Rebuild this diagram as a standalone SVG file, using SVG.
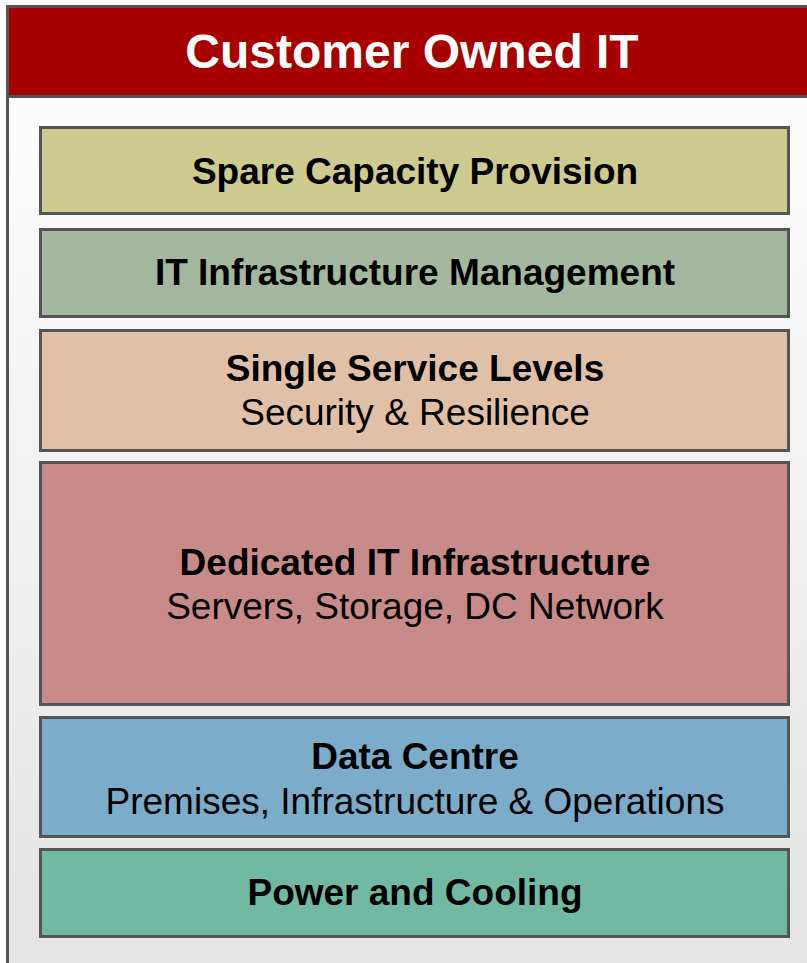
<svg xmlns="http://www.w3.org/2000/svg" width="807" height="963" viewBox="0 0 807 963">
<defs>
<linearGradient id="bg" x1="0" y1="0" x2="0" y2="1">
<stop offset="0" stop-color="#ffffff"/>
<stop offset="1" stop-color="#e4e4e4"/>
</linearGradient>
<style>
.box{stroke:#555555;stroke-width:3}
.t{font-family:"Liberation Sans",Arial,sans-serif;text-anchor:middle;fill:#000}
.b{font-weight:bold;font-size:37px}
.n{font-size:37px}
</style>
</defs>
<g id="frame">
<rect x="7.5" y="6.5" width="810" height="970" fill="url(#bg)" stroke="#555555" stroke-width="3"/>
<rect x="7.5" y="6.5" width="810" height="90" fill="#a60000" stroke="#555555" stroke-width="3"/>
<text class="t" x="412" y="68" style="font-weight:bold;font-size:48px;fill:#ffffff">Customer Owned IT</text>
</g>
<g id="spare">
<rect class="box" x="40.5" y="127.5" width="748" height="86" fill="#cdcb8f"/>
<text class="t b" x="415" y="184">Spare Capacity Provision</text>
</g>
<g id="itmgmt">
<rect class="box" x="40.5" y="229.5" width="748" height="87" fill="#a3b89e"/>
<text class="t b" x="415" y="285">IT Infrastructure Management</text>
</g>
<g id="service">
<rect class="box" x="40.5" y="330.5" width="748" height="120" fill="#e0c1a7"/>
<text class="t b" x="415" y="381">Single Service Levels</text>
<text class="t n" x="415" y="425">Security &amp; Resilience</text>
</g>
<g id="dedicated">
<rect class="box" x="40.5" y="462.5" width="748" height="242" fill="#c98b8a"/>
<text class="t b" x="415" y="575">Dedicated IT Infrastructure</text>
<text class="t n" x="415" y="619">Servers, Storage, DC Network</text>
</g>
<g id="datacentre">
<rect class="box" x="40.5" y="717.5" width="748" height="119" fill="#7badcb"/>
<text class="t b" x="415" y="769">Data Centre</text>
<text class="t n" x="415" y="814">Premises, Infrastructure &amp; Operations</text>
</g>
<g id="power">
<rect class="box" x="40.5" y="849.5" width="748" height="87" fill="#71b9a3"/>
<text class="t b" x="415" y="905">Power and Cooling</text>
</g>
<g id="connectors"/>
</svg>
